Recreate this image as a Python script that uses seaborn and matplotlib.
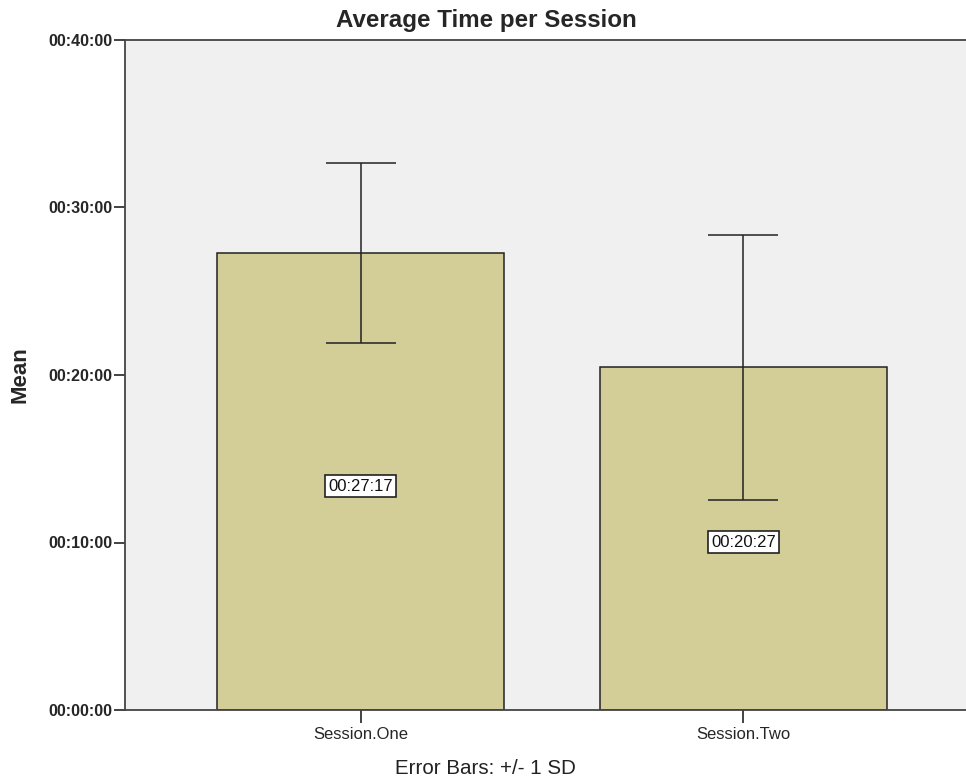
import numpy as np
import pandas as pd
import matplotlib
matplotlib.use('Agg')
import matplotlib.pyplot as plt
from matplotlib.ticker import FuncFormatter, MultipleLocator
import seaborn as sns

# values in seconds
sessions = ['Session.One', 'Session.Two']
mean_secs = [1637, 1227]   # 00:27:17, 00:20:27
sd_secs = [321, 473]


def hms(s, pos=None):
    s = int(round(s))
    return f'{s // 3600:02d}:{(s % 3600) // 60:02d}:{s % 60:02d}'


sns.set_style('white')
plt.rcParams['font.family'] = ['Liberation Sans', 'DejaVu Sans']

df = pd.DataFrame({'session': sessions, 'mean': mean_secs, 'sd': sd_secs})

fig = plt.figure(figsize=(9.66, 7.81), dpi=100)
ax = fig.add_axes([125 / 966, 1 - 710 / 781, (979 - 125) / 966, 670 / 781])
ax.set_facecolor('#f0f0f0')

sns.barplot(data=df, x='session', y='mean', color='#d3cd98', width=0.75,
            edgecolor='#222222', linewidth=1.1, saturation=1, errorbar=None, ax=ax)
ax.errorbar(range(len(df)), df['mean'], yerr=df['sd'], fmt='none',
            ecolor='#222222', elinewidth=1.1, capsize=25, capthick=1.1)

for i, m in enumerate(df['mean']):
    ax.text(i, m * 0.49, hms(m), ha='center', va='center', fontsize=12,
            color='#111111',
            bbox=dict(boxstyle='square,pad=0.2', fc='white', ec='#222222', lw=1.2))

ax.set_xlim(-0.615, 1.615)
ax.set_ylim(0, 2400)
ax.yaxis.set_major_locator(MultipleLocator(600))
ax.yaxis.set_major_formatter(FuncFormatter(hms))
ax.tick_params(axis='y', left=True, length=8, width=1.2, pad=1, labelsize=11.5,
               color='#222222')
ax.tick_params(axis='x', bottom=True, length=9, width=1.2, pad=3, labelsize=12,
               color='#222222')
for lbl in ax.get_yticklabels():
    lbl.set_fontweight('bold')
ax.set_xlabel('')
ax.set_ylabel('')

for side in ['left', 'bottom', 'top']:
    ax.spines[side].set_color('#444444')
    ax.spines[side].set_linewidth(1.3)
ax.spines['right'].set_visible(False)

fig.text(0.503, 1 - 20 / 781, 'Average Time per Session', ha='center', va='center',
         fontsize=17.4, fontweight='bold')
fig.text(20 / 966, 1 - 375 / 781, 'Mean', ha='center', va='center', rotation=90,
         fontsize=16, fontweight='bold')
fig.text(0.503, 1 - 768 / 781, 'Error Bars: +/- 1 SD', ha='center', va='center',
         fontsize=14.8, color='#222222')

plt.savefig('out.png', dpi=100)
